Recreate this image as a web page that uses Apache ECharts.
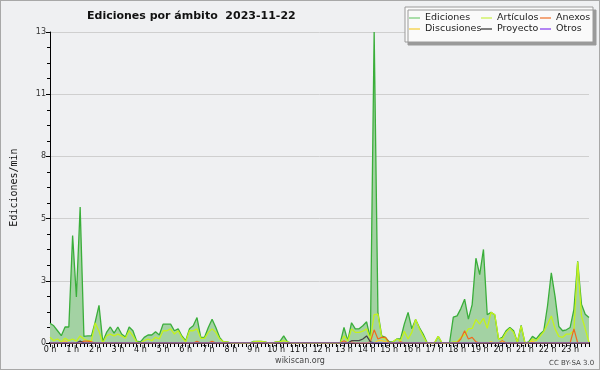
<!DOCTYPE html>
<html>
<head>
<meta charset="utf-8">
<script src="https://cdn.jsdelivr.net/npm/echarts@6/dist/echarts.min.js"></script>
<style>
body{margin:0;background:#fff;}
#main{width:598px;height:368px;border:1px solid #a8a8a8;background:#eff0f2;}
</style>
</head>
<body>
<div id="main"></div>
<script>
// horas del eje x (una etiqueta cada 6 intervalos de 10 min)
var hourLabels = ['0 h','1 h','2 h','3 h','4 h','5 h','6 h','7 h','8 h','9 h','10 h','11 h',
	'12 h','13 h','14 h','15 h','16 h','17 h','18 h','19 h','20 h','21 h','22 h','23 h'];

// ediciones/min por intervalo de 10 minutos
var ediciones = [
	0.84,0.73,0.52,0.31,0.68,0.68,4.56,1.95,5.77,0.28,0.3,0.3,
	0.9,1.6,0.05,0.45,0.68,0.42,0.68,0.38,0.25,0.68,0.52,0.08,
	0.05,0.24,0.34,0.34,0.48,0.34,0.8,0.8,0.8,0.52,0.6,0.3,
	0.1,0.6,0.73,1.08,0.24,0.24,0.66,1.01,0.66,0.24,0.05,0.05,
	0,0,0,0,0,0,0.07,0.07,0.07,0.05,0,0,
	0.05,0.07,0.3,0.05,0,0,0,0,0,0,0,0,
	0,0,0,0,0,0,0.66,0.1,0.86,0.6,0.6,0.73,
	0.9,0.17,13.2,1.3,0.3,0.24,0.05,0.05,0.17,0.17,0.8,1.3,
	0.6,1.0,0.66,0.38,0.03,0,0,0.28,0,0,0,1.1,
	1.15,1.46,1.86,1.01,1.63,3.6,2.9,3.97,1.2,1.3,1.2,0.17,
	0.24,0.52,0.66,0.52,0.03,0.75,0,0.05,0.28,0.17,0.38,0.52,
	1.58,2.98,1.97,0.7,0.52,0.56,0.66,1.43,3.47,1.65,1.22,1.08
];
var articulos = [
	0.24,0.1,0.17,0.05,0.2,0.1,0.17,0.08,0.3,0.17,0.1,0.1,
	0.85,0.5,0,0.3,0.38,0.3,0.38,0.3,0.2,0.52,0.3,0.05,
	0,0.1,0.17,0.1,0.24,0.17,0.52,0.52,0.6,0.38,0.52,0.24,
	0.05,0.52,0.52,0.6,0.2,0.2,0.45,0.6,0.45,0.17,0.05,0.05,
	0,0,0,0,0,0,0.05,0.07,0.07,0.05,0,0,
	0.05,0.05,0.1,0.05,0,0,0,0,0,0,0,0,
	0,0,0,0,0,0,0.3,0.08,0.6,0.45,0.45,0.5,
	0.6,0.17,1.2,1.22,0.24,0.17,0,0.05,0.17,0.1,0.5,0.17,
	0.45,1.0,0.6,0.3,0,0,0,0.28,0,0,0,0.05,
	0.05,0.24,0.34,0.6,0.62,1.0,0.8,1.05,0.62,1.3,1.2,0.17,
	0.17,0.45,0.62,0.45,0.03,0.73,0,0,0.17,0.1,0.28,0.48,
	0.8,1.15,0.6,0.28,0.24,0.38,0.38,0.52,3.45,1.15,0.6,0.03
];
var anexos = [
	0,0,0,0,0,0,0,0,0,0.08,0.08,0.05,
	0,0,0,0,0,0,0,0,0,0,0,0,
	0,0,0,0,0,0,0,0,0,0,0,0,
	0,0,0,0.07,0,0,0,0.07,0,0,0,0,
	0,0,0,0,0,0,0,0,0,0,0,0,
	0,0,0,0,0,0,0,0,0,0,0,0,
	0,0,0,0,0,0,0.1,0,0.05,0,0,0,
	0,0.05,0.56,0.17,0.24,0.24,0,0,0,0.05,0,0,
	0,0,0,0,0,0,0,0,0,0,0,0,
	0,0.17,0.52,0.17,0.24,0.05,0,0,0,0,0,0,
	0.1,0,0,0,0,0,0,0,0,0,0,0,
	0,0,0,0,0,0,0,0.6,0,0,0,0
];
var discusiones = [
	0,0,0,0,0.1,0,0,0,0,0,0,0,
	0,0,0,0,0,0,0,0,0,0,0,0,
	0,0,0,0,0,0,0,0,0,0,0,0,
	0,0,0,0,0,0,0,0,0,0,0,0,
	0,0,0,0,0,0,0,0,0,0,0,0,
	0,0,0,0,0,0,0,0,0,0,0,0,
	0,0,0,0,0,0,0,0,0,0,0,0,
	0,0,0,0.1,0.1,0.05,0,0,0,0,0,0,
	0,0,0,0,0,0,0,0,0,0,0,0,
	0,0,0,0,0,0,0,0,0,0.05,0,0,
	0.05,0,0,0,0,0,0,0,0.08,0,0,0,
	0,0,0,0,0,0,0,0,0,0,0,0
];
var proyecto = [
	0,0,0,0,0,0,0,0,0.08,0,0,0,
	0,0,0,0,0,0,0,0,0,0,0,0,
	0,0,0,0,0,0,0,0,0,0,0,0,
	0,0,0,0,0,0,0,0,0,0,0,0,
	0,0,0,0,0,0,0,0,0,0,0,0,
	0,0,0,0,0,0,0,0,0,0,0,0,
	0,0,0,0,0,0,0,0,0.1,0.1,0.1,0.17,
	0.3,0.05,0,0,0,0,0,0,0,0,0,0,
	0,0,0,0,0,0,0,0,0,0,0,0,
	0,0,0,0,0,0,0,0,0,0,0,0,
	0,0,0,0,0,0,0,0,0,0,0,0,
	0,0,0,0,0,0,0,0,0,0,0,0
];
var otros = [];
for (var k = 0; k < 144; k++) otros.push(0);

var categorias = [];
for (var i = 0; i < 144; i++) categorias.push(i % 6 === 0 ? hourLabels[i / 6] : '');

var yMax = 13.2;
var font = 'DejaVu Sans';

function linea(name, data, color, width){
	return {
		name: name, type: 'line', data: data, symbol: 'none',
		lineStyle: {color: color, width: width}, itemStyle: {color: color},
		emphasis: {disabled: true}, animation: false
	};
}
function item(name, color){
	return {name: name, icon: 'rect', itemStyle: {color: color}};
}

var myChart = echarts.init(document.getElementById('main'));
var legendBase = {
	orient: 'vertical', top: 12, itemGap: 1, itemWidth: 11, itemHeight: 1.5,
	textStyle: {fontFamily: font, fontSize: 9.5, color: '#222'}, padding: 0
};
var option = {
	animation: false,
	title: {
		text: 'Ediciones por ámbito  2023-11-22', left: 81, top: 5,
		textStyle: {fontFamily: font, fontSize: 11, fontWeight: 'bold', color: '#111'}
	},
	graphic: [
		{type: 'rect', shape: {x: 404, y: 6, width: 188, height: 35}, z: 1,
			style: {fill: '#fafafa', stroke: '#9a9a9a', lineWidth: 1,
				shadowColor: '#9a9a9a', shadowOffsetX: 3, shadowOffsetY: 3, shadowBlur: 0}},
		{type: 'text', left: 'center', top: 356, z: 10,
			style: {text: 'wikiscan.org', fontFamily: font, fontSize: 8, fill: '#444'}},
		{type: 'text', left: 548, top: 359, z: 10,
			style: {text: 'CC BY-SA 3.0', fontFamily: font, fontSize: 7, fill: '#444'}}
	],
	legend: [
		Object.assign({}, legendBase, {left: 408,
			data: [item('Ediciones', '#8fd48f'), item('Discusiones', '#f6d65a')]}),
		Object.assign({}, legendBase, {left: 480,
			data: [item('Artículos', '#d2f26a'), item('Proyecto', '#555555')]}),
		Object.assign({}, legendBase, {left: 539,
			data: [item('Anexos', '#f08a50'), item('Otros', '#9a5cf0')]})
	],
	grid: {left: 46, right: 10, top: 31, bottom: 26},
	xAxis: {
		type: 'category', data: categorias, boundaryGap: false,
		axisLine: {lineStyle: {color: '#000', width: 2}},
		axisTick: {interval: 0, length: 4, lineStyle: {color: '#000'}},
		axisLabel: {interval: 0, fontFamily: font, fontSize: 8, color: '#111', margin: 3},
		splitLine: {show: false}
	},
	yAxis: {
		type: 'value', min: 0, max: yMax, interval: yMax / 5,
		name: 'Ediciones/min', nameLocation: 'middle', nameGap: 31, nameRotate: 90,
		nameTextStyle: {fontFamily: 'DejaVu Sans Mono', fontSize: 10, color: '#111'},
		axisLine: {show: true, lineStyle: {color: '#000'}},
		axisTick: {show: true, length: 4, lineStyle: {color: '#000'}},
		minorTick: {show: true, splitNumber: 4, length: 3, lineStyle: {color: '#000'}},
		axisLabel: {fontFamily: font, fontSize: 8, color: '#333', margin: 4,
			formatter: function(v){ return Math.round(v); }},
		splitLine: {lineStyle: {color: '#cfcfcf'}}
	},
	series: [
		Object.assign(linea('Ediciones', ediciones, '#3aae3a', 1.3),
			{areaStyle: {color: '#a3d2a3', opacity: 1}}),
		linea('Artículos', articulos, '#c4f21c', 1.3),
		linea('Anexos', anexos, '#f06a1e', 1.2),
		linea('Discusiones', discusiones, '#f4cf2a', 1.2),
		linea('Proyecto', proyecto, '#444444', 1.2),
		linea('Otros', otros, '#8a4df0', 1)
	]
};
myChart.setOption(option);
</script>
</body>
</html>
